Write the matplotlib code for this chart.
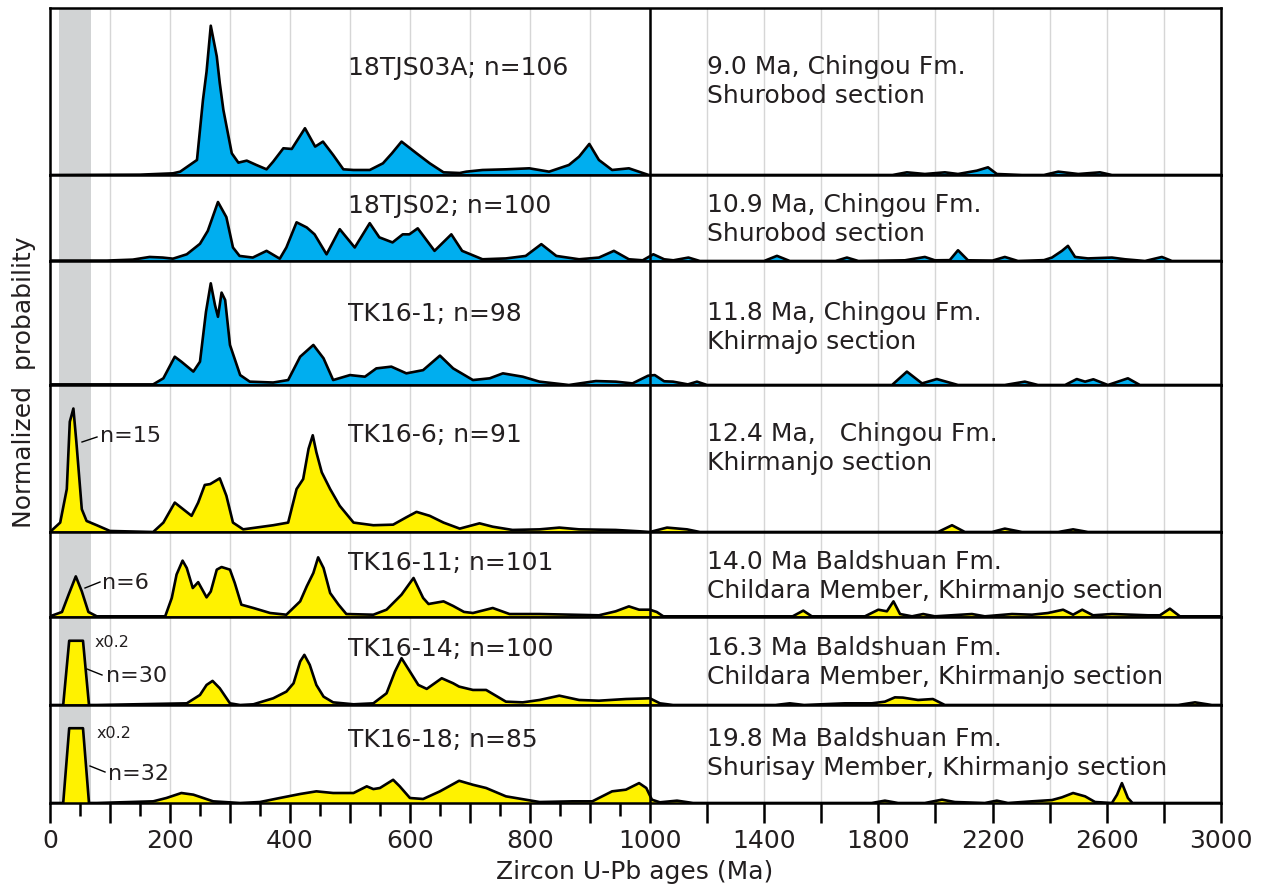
import numpy as np
import matplotlib
matplotlib.use('Agg')
import matplotlib.pyplot as plt
from matplotlib.lines import Line2D
from matplotlib.ticker import FixedLocator, FuncFormatter

# normalized probability curves: (age Ma, height as fraction of panel)
tjs03a = [(0, 0), (150, .002), (205, .01), (217, .02), (245, .09), (255, .45), (261, .62),
          (268, .894), (278, .71), (283, .55), (289, .39), (303, .13), (314, .074), (328, .086),
          (344, .06), (361, .034), (372, .08), (389, .16), (403, .156), (425, .28), (442, .17),
          (455, .2), (472, .12), (489, .034), (506, .03), (533, .03), (555, .07), (570, .13),
          (586, .2), (611, .13), (633, .07), (656, .016), (683, .012), (694, .02), (721, .03),
          (760, .034), (799, .04), (832, .02), (865, .06), (882, .11), (899, .186), (915, .09),
          (937, .03), (965, .04), (998, 0), (1850, 0), (1900, .016), (1963, .006), (2033, .016),
          (2079, .006), (2145, .026), (2184, .046), (2215, .006), (2303, 0), (2380, 0),
          (2430, .02), (2500, .006), (2576, .016), (2618, 0), (3000, 0)]

tjs02 = [(0, .005), (95, .005), (138, .016), (166, .047), (188, .04), (205, .027), (228, .078),
         (250, .2), (263, .35), (280, .686), (294, .51), (305, .157), (316, .059), (338, .04),
         (361, .118), (383, .027), (394, .157), (411, .45), (428, .39), (441, .31), (461, .078),
         (483, .37), (508, .157), (533, .44), (549, .275), (571, .216), (588, .31), (599, .31),
         (613, .38), (641, .118), (669, .31), (687, .118), (721, .02), (760, .03), (793, .059),
         (819, .196), (844, .059), (882, .02), (915, .04), (940, .118), (965, .02), (988, .008),
         (1012, .078), (1050, .02), (1082, .008), (1135, .04), (1175, 0), (1400, 0), (1445, .06),
         (1490, 0), (1650, 0), (1690, .04), (1730, 0), (1893, .008), (1963, .047), (1998, .008),
         (2050, .01), (2079, .125), (2114, .008), (2200, .005), (2243, .047), (2289, 0),
         (2380, .01), (2408, .04), (2443, .118), (2464, .176), (2489, .047), (2534, .03),
         (2618, .04), (2664, .02), (2734, 0), (2793, .047), (2828, 0), (3000, 0)]

tk16_1 = [(0, .005), (172, .005), (189, .054), (208, .228), (219, .188), (239, .108), (250, .188),
          (260, .59), (268, .82), (275, .645), (280, .55), (286, .745), (292, .685), (300, .323),
          (317, .08), (333, .027), (372, .02), (397, .04), (417, .228), (439, .323), (456, .215),
          (472, .04), (500, .08), (525, .067), (544, .134), (569, .148), (594, .094), (622, .12),
          (650, .237), (672, .134), (705, .04), (733, .054), (755, .094), (788, .067), (816, .027),
          (865, 0), (910, .032), (943, .027), (971, .013), (997, .075), (1017, .08), (1050, .03),
          (1081, .027), (1133, .005), (1165, .027), (1200, 0), (1848, 0), (1900, .108),
          (1953, .013), (2005, .048), (2079, 0), (2243, 0), (2313, .027), (2359, 0), (2454, 0),
          (2495, .048), (2524, .027), (2553, .046), (2604, 0), (2674, .054), (2716, 0), (3000, 0)]

tk16_6 = [(0, 0), (17, .064), (28, .292), (33, .75), (39, .84), (44, .61), (53, .155), (61, .075),
          (78, .046), (100, .007), (172, 0), (189, .064), (208, .2), (222, .155), (236, .11),
          (247, .2), (258, .32), (267, .326), (283, .365), (294, .247), (305, .064), (322, .018),
          (372, .046), (397, .064), (411, .292), (422, .36), (431, .566), (438, .658), (444, .543),
          (453, .406), (467, .292), (483, .178), (506, .064), (539, .046), (572, .05), (594, .1),
          (611, .137), (633, .11), (656, .064), (683, .023), (716, .059), (738, .036), (771, .014),
          (816, .018), (849, .03), (882, .018), (943, .014), (982, .005), (1000, 0), (1060, .03),
          (1130, .018), (1175, 0), (2009, 0), (2058, .046), (2103, 0), (2198, 0), (2243, .023),
          (2303, 0), (2430, 0), (2482, .018), (2534, 0), (3000, 0)]

tk16_11 = [(0, .008), (20, .059), (31, .263), (43, .478), (53, .302), (64, .059), (78, .008),
           (192, .008), (203, .224), (211, .5), (221, .663), (228, .576), (238, .341), (247, .41),
           (261, .231), (268, .3), (278, .557), (286, .588), (300, .557), (308, .4), (319, .145),
           (339, .106), (367, .047), (394, .027), (417, .184), (428, .361), (439, .518), (447, .702),
           (456, .576), (467, .282), (481, .145), (494, .035), (539, .027), (561, .086), (586, .263),
           (606, .459), (622, .224), (631, .153), (656, .184), (672, .13), (690, .06), (705, .047),
           (738, .106), (766, .035), (816, .035), (871, .027), (915, .02), (943, .067), (965, .125),
           (982, .086), (1000, .086), (1024, .059), (1047, .008), (1500, .008), (1537, .075),
           (1567, .008), (1753, .008), (1800, .086), (1830, .067), (1853, .184), (1876, .035),
           (1918, .008), (1957, .035), (1998, .008), (2128, .035), (2173, .008), (2268, .035),
           (2338, .027), (2394, .047), (2447, .086), (2482, .027), (2514, .086), (2552, .02),
           (2618, .035), (2688, .027), (2744, .02), (2786, .02), (2821, .098), (2856, .008),
           (3000, .008)]

tk16_14 = [(0, 0), (22, 0), (32, .73), (55, .73), (65, 0), (78, 0), (228, .019), (250, .114),
           (261, .228), (271, .274), (283, .19), (300, .019), (317, 0), (339, .008), (372, .076),
           (394, .152), (406, .247), (417, .494), (424, .57), (433, .456), (444, .228), (456, .095),
           (472, .03), (506, .008), (539, .019), (561, .133), (575, .38), (586, .532), (600, .38),
           (614, .228), (628, .183), (653, .304), (672, .247), (682, .209), (705, .171), (727, .171),
           (760, .038), (788, .03), (816, .057), (849, .106), (882, .057), (915, .049), (960, .068),
           (1000, .076), (1035, .019), (1081, 0), (1440, 0), (1490, .019), (1540, 0), (1683, .019),
           (1777, .019), (1823, .038), (1858, .087), (1886, .084), (1939, .057), (1991, .068),
           (2033, 0), (2850, 0), (2909, .03), (2968, 0), (3000, 0)]

tk16_18 = [(0, 0), (22, 0), (32, .763), (55, .763), (65, 0), (78, 0), (172, .017), (194, .051),
           (219, .102), (239, .085), (272, .017), (317, 0), (350, .01), (383, .051), (417, .092),
           (444, .119), (472, .102), (506, .102), (528, .17), (539, .142), (550, .153), (572, .237),
           (583, .17), (600, .051), (622, .041), (650, .119), (682, .227), (705, .186), (727, .153),
           (760, .068), (816, .01), (871, .017), (904, .017), (937, .119), (960, .136), (982, .203),
           (994, .153), (1007, .034), (1035, .007), (1095, .024), (1151, 0), (1777, 0), (1823, .024),
           (1869, 0), (1963, 0), (2023, .034), (2068, .01), (2173, 0), (2215, .024), (2254, 0),
           (2338, .017), (2408, .03), (2443, .058), (2482, .102), (2524, .068), (2559, .01),
           (2618, 0), (2636, .085), (2653, .203), (2674, .051), (2690, 0), (3000, 0)]

curves = [tjs03a, tjs02, tk16_1, tk16_6, tk16_11, tk16_14, tk16_18]
sample_labels = ['18TJS03A; n=106', '18TJS02; n=100', 'TK16-1; n=98', 'TK16-6; n=91',
                 'TK16-11; n=101', 'TK16-14; n=100', 'TK16-18; n=85']
age_lines = ['9.0 Ma, Chingou Fm.', '10.9 Ma, Chingou Fm.', '11.8 Ma, Chingou Fm.',
             '12.4 Ma,   Chingou Fm.', '14.0 Ma Baldshuan Fm.', '16.3 Ma Baldshuan Fm.',
             '19.8 Ma Baldshuan Fm.']
section_lines = ['Shurobod section', 'Shurobod section', 'Khirmajo section', 'Khirmanjo section',
                 'Childara Member, Khirmanjo section', 'Childara Member, Khirmanjo section',
                 'Shurisay Member, Khirmanjo section']
fill_colors = ['#00AEEF'] * 3 + ['#FFF200'] * 4
young_counts = ['', '', '', 'n=15', 'n=6', 'n=30', 'n=32']
scaled = [False, False, False, False, False, True, True]

label_ticks = [0, 200, 400, 600, 800, 1000, 1400, 1800, 2200, 2600, 3000]
young_band = (15, 68)

W, H = 1265, 890
# panel edges in pixels from top
edges = [8, 175, 261, 385, 532, 617, 705, 803]
LEFT, RIGHT = 50, 1221
SQ = 0.476  # right half compressed


def fwd(x):
    x = np.asarray(x, dtype=float)
    return np.where(x <= 1000, x, 1000 + (x - 1000) * SQ)


def inv(y):
    y = np.asarray(y, dtype=float)
    return np.where(y <= 1000, y, 1000 + (y - 1000) / SQ)


TXT = '#231F20'
plt.rcParams['font.family'] = ['DejaVu Sans']

fig = plt.figure(figsize=(W / 100, H / 100), dpi=100)

major = list(range(0, 1001, 100)) + list(range(1200, 3001, 200))
minor = list(range(50, 1000, 100))

axes = []
for i, pts in enumerate(curves):
    top, bot = edges[i], edges[i + 1]
    ax = fig.add_axes([LEFT / W, 1 - bot / H, (RIGHT - LEFT) / W, (bot - top) / H])
    ax.set_xscale('function', functions=(fwd, inv))
    ax.set_xlim(0, 3000)
    ax.set_ylim(0, 1)
    ax.set_yticks([])
    ax.xaxis.set_major_locator(FixedLocator(major))
    ax.xaxis.set_minor_locator(FixedLocator(minor))
    ax.set_axisbelow(True)
    ax.xaxis.grid(True, which='major', color='#D6D6D6', lw=1.0)

    ages = [p[0] for p in pts]
    vals = [p[1] for p in pts]
    ax.axvspan(*young_band, color='#D1D3D4', lw=0, zorder=1)
    ax.fill_between(ages, 0, vals, color=fill_colors[i], lw=0, zorder=2)
    ax.plot(ages, vals, color='black', lw=1.9, solid_joinstyle='round', zorder=3)
    ax.axvline(1000, color='black', lw=1.8, zorder=4)

    for s in ax.spines.values():
        s.set_linewidth(1.8)
        s.set_color('black')

    if i < len(curves) - 1:
        ax.tick_params(axis='x', which='both', bottom=False, labelbottom=False)
    else:
        ax.xaxis.set_major_formatter(FuncFormatter(
            lambda v, p: str(int(round(v))) if int(round(v)) in label_ticks else ''))
        ax.tick_params(axis='x', which='major', direction='out', length=14.5, width=1.8,
                       labelsize=18, labelcolor=TXT, pad=4)
        ax.tick_params(axis='x', which='minor', direction='out', length=9.5, width=1.8)
    axes.append(ax)


def ftext(x, y, s, **kw):
    fig.text(x / W, 1 - y / H, s, color=TXT, **kw)


# text baselines per panel, pixels from top
label_base = [75, 213, 321, 442, 570, 656, 747]
for i in range(len(curves)):
    ftext(348, label_base[i], sample_labels[i], fontsize=18, va='baseline')
    ftext(707, label_base[i] - 1, age_lines[i], fontsize=18, va='baseline')
    ftext(707, label_base[i] + 28, section_lines[i], fontsize=18, va='baseline')

# young population labels with short leaders
count_pos = [None, None, None, (100, 442), (102, 589), (106, 682), (108, 780)]
leaders = [None, None, None, ((82, 442), (97, 437)), ((85, 588), (100, 582)),
           ((87, 669), (102, 675)), ((90, 766), (105, 772))]
scale_pos = [None, None, None, None, None, (95, 647), (97, 738)]
for i in range(len(curves)):
    if young_counts[i]:
        ftext(count_pos[i][0], count_pos[i][1], young_counts[i], fontsize=16, va='baseline')
        (x0, y0), (x1, y1) = leaders[i]
        fig.add_artist(Line2D([x0 / W, x1 / W], [1 - y0 / H, 1 - y1 / H],
                              transform=fig.transFigure, color='black', lw=1.0))
    if scaled[i]:
        ftext(scale_pos[i][0], scale_pos[i][1], 'x0.2', fontsize=11.5, va='baseline')

ftext(24, 382, 'Normalized  probability', fontsize=18, rotation=90, ha='center', va='center')
ftext(635, 872, 'Zircon U-Pb ages (Ma)', fontsize=18, ha='center', va='center')

fig.savefig('out.png', dpi=100)
